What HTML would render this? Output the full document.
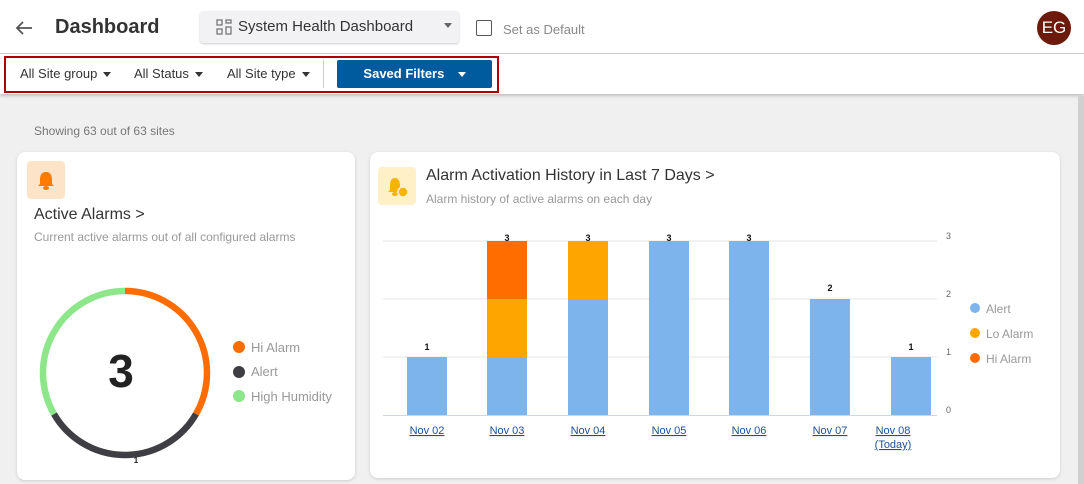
<!DOCTYPE html>
<html><head><style>
body{margin:0;width:1084px;height:484px;overflow:hidden;background:#f0f0f0;font-family:"Liberation Sans",sans-serif;position:relative}
.a{position:absolute}
.hdr{left:0;top:0;width:1084px;height:53px;background:#fff;border-bottom:1px solid #ccc}
.fb{left:0;top:54px;width:1084px;height:40px;background:#fff;box-shadow:0 2px 3px rgba(0,0,0,.2)}
.card{background:#fff;border-radius:8px;box-shadow:0 1px 3px rgba(0,0,0,.15)}
.tri{display:inline-block;width:0;height:0;border-left:4px solid transparent;border-right:4px solid transparent;border-top:5px solid #333;vertical-align:middle;margin-left:6px}
</style></head><body>
<div class="a hdr"></div>
<svg class="a" style="left:15px;top:20px" width="18" height="16"><path d="M17,8 H2 M8,2 L2,8 L8,14" fill="none" stroke="#555" stroke-width="1.8"/></svg>
<div class="a" style="left:55px;top:16px;font-size:20px;font-weight:bold;color:#333">Dashboard</div>
<div class="a" style="left:200px;top:11px;width:259px;height:32px;background:#f2f2f5;border-radius:3px;box-shadow:0 1px 2px rgba(0,0,0,.2)"></div>
<svg class="a" style="left:216px;top:19px" width="16" height="16"><g fill="none" stroke="#777" stroke-width="1.3"><rect x="1" y="1" width="5" height="5"/><rect x="10" y="1" width="5" height="3"/><rect x="1" y="10" width="5" height="5"/><rect x="10" y="8" width="5" height="7"/></g></svg>
<div class="a" style="left:238px;top:18px;font-size:15px;color:#333">System Health Dashboard</div>
<div class="a" style="left:438px;top:17px"><span class="tri" style="border-top-color:#666"></span></div>
<div class="a" style="left:476px;top:20px;width:14px;height:14px;border:1.5px solid #555;border-radius:2px"></div>
<div class="a" style="left:503px;top:22px;font-size:13px;color:#888">Set as Default</div>
<div class="a" style="left:1037px;top:11px;width:34px;height:34px;border-radius:50%;background:#6b1a0c;color:#fff;font-size:17px;text-align:center;line-height:34px">EG</div>
<div class="a fb"></div>
<div class="a" style="left:4px;top:56px;width:491px;height:33px;border:2px solid #b00000"></div>
<div class="a" style="left:20px;top:66px;font-size:13px;color:#333">All Site group<span class="tri"></span></div>
<div class="a" style="left:134px;top:66px;font-size:13px;color:#333">All Status<span class="tri"></span></div>
<div class="a" style="left:227px;top:66px;font-size:13px;color:#333">All Site type<span class="tri"></span></div>
<div class="a" style="left:323px;top:60px;width:1px;height:28px;background:#ccc"></div>
<div class="a" style="left:337px;top:60px;width:155px;height:28px;background:#005a9e;border-radius:2px;color:#fff;font-size:13px;font-weight:bold;line-height:28px;text-align:center">Saved Filters &nbsp;<span class="tri" style="border-top-color:#fff"></span></div>
<div class="a" style="left:1078px;top:96px;width:6px;height:388px;background:#d0d0d0"></div>
<div class="a" style="left:34px;top:124px;font-size:12px;color:#777">Showing 63 out of 63 sites</div>

<div class="a card" style="left:17px;top:152px;width:338px;height:328px"></div>
<div class="a" style="left:27px;top:161px;width:38px;height:38px;background:#fde3c8;border-radius:4px"></div>
<svg class="a" style="left:36px;top:169px" width="20" height="22"><path d="M10,1 L10,3 C5,3 4,7 4,11 L4,15 L2,17 L18,17 L16,15 L16,11 C16,7 15,3 10,3 Z" fill="#ff7a00"/><ellipse cx="10" cy="19" rx="3" ry="2" fill="#ff7a00"/></svg>
<div class="a" style="left:34px;top:206px;font-size:16px;color:#333">Active Alarms &gt;</div>
<div class="a" style="left:34px;top:230px;font-size:12px;color:#999">Current active alarms out of all configured alarms</div>
<svg class="a" style="left:0;top:0" width="360" height="484">
<g fill="none" stroke-width="6.5">
<path d="M125,291 A82,82 0 0 1 196,414" stroke="#ff6d00"/>
<path d="M196,414 A82,82 0 0 1 54,414" stroke="#3e3e44"/>
<path d="M54,414 A82,82 0 0 1 125,291" stroke="#8ee68a"/>
</g>
<text x="121" y="387" font-size="46" font-weight="bold" fill="#222" text-anchor="middle" font-family="Liberation Sans">3</text>
<text x="136" y="463" font-size="8" font-weight="bold" fill="#222" text-anchor="middle" font-family="Liberation Sans">1</text>
<circle cx="239" cy="347" r="6" fill="#ff6d00"/><circle cx="239" cy="372" r="6" fill="#3e3e44"/><circle cx="239" cy="396" r="6" fill="#8ee68a"/>
<g font-size="13" fill="#999" font-family="Liberation Sans"><text x="251" y="352">Hi Alarm</text><text x="251" y="376">Alert</text><text x="251" y="401">High Humidity</text></g>
</svg>

<div class="a card" style="left:370px;top:152px;width:690px;height:326px"></div>
<div class="a" style="left:378px;top:167px;width:38px;height:38px;background:#fff0c8;border-radius:4px"></div>
<svg class="a" style="left:386px;top:175px" width="24" height="24"><path d="M9,1 L9,3 C5,3 4,7 4,11 L4,15 L2,17 L16,17 L14,15 L14,11 C14,7 13,3 9,3 Z" fill="#f5b400"/><ellipse cx="9" cy="19" rx="3" ry="2" fill="#f5b400"/><circle cx="17" cy="17" r="5" fill="#f5b400" stroke="#fff0c8" stroke-width="1.5"/></svg>
<div class="a" style="left:426px;top:167px;font-size:16px;color:#333">Alarm Activation History in Last 7 Days &gt;</div>
<div class="a" style="left:426px;top:192px;font-size:12px;color:#999">Alarm history of active alarms on each day</div>
<svg class="a" style="left:0;top:0" width="1084" height="484" font-family="Liberation Sans">
<g stroke="#e6e6e6" stroke-width="1"><line x1="383" y1="241" x2="937" y2="241"/><line x1="383" y1="299" x2="937" y2="299"/><line x1="383" y1="357" x2="937" y2="357"/></g>
<line x1="383" y1="415.5" x2="937" y2="415.5" stroke="#ccd6eb"/>
<g fill="#7cb4eb">
<rect x="407" y="357" width="40" height="58"/><rect x="487" y="357" width="40" height="58"/><rect x="568" y="299" width="40" height="116"/>
<rect x="649" y="241" width="40" height="174"/><rect x="729" y="241" width="40" height="174"/><rect x="810" y="299" width="40" height="116"/><rect x="891" y="357" width="40" height="58"/>
</g>
<rect x="487" y="299" width="40" height="58" fill="#ffa500"/><rect x="487" y="241" width="40" height="58" fill="#ff6d00"/>
<rect x="568" y="241" width="40" height="58" fill="#ffa500"/>
<g font-size="9" font-weight="bold" fill="#111" text-anchor="middle">
<text x="427" y="350">1</text><text x="507" y="241">3</text><text x="588" y="241">3</text><text x="669" y="241">3</text><text x="749" y="241">3</text><text x="830" y="291">2</text><text x="911" y="350">1</text></g>
<g font-size="9" fill="#666"><text x="946" y="239">3</text><text x="946" y="297">2</text><text x="946" y="355">1</text><text x="946" y="413">0</text></g>
<g font-size="11" fill="#1a4f9c" text-decoration="underline" text-anchor="middle">
<text x="427" y="434">Nov 02</text><text x="507" y="434">Nov 03</text><text x="588" y="434">Nov 04</text><text x="669" y="434">Nov 05</text><text x="749" y="434">Nov 06</text><text x="830" y="434">Nov 07</text><text x="893" y="434">Nov 08</text><text x="893" y="448">(Today)</text></g>
<circle cx="975" cy="308" r="5" fill="#7cb4eb"/><circle cx="975" cy="333" r="5" fill="#ffa500"/><circle cx="975" cy="358" r="5" fill="#ff6d00"/>
<g font-size="12" fill="#999"><text x="986" y="313">Alert</text><text x="986" y="338">Lo Alarm</text><text x="986" y="363">Hi Alarm</text></g>
</svg>
</body></html>
